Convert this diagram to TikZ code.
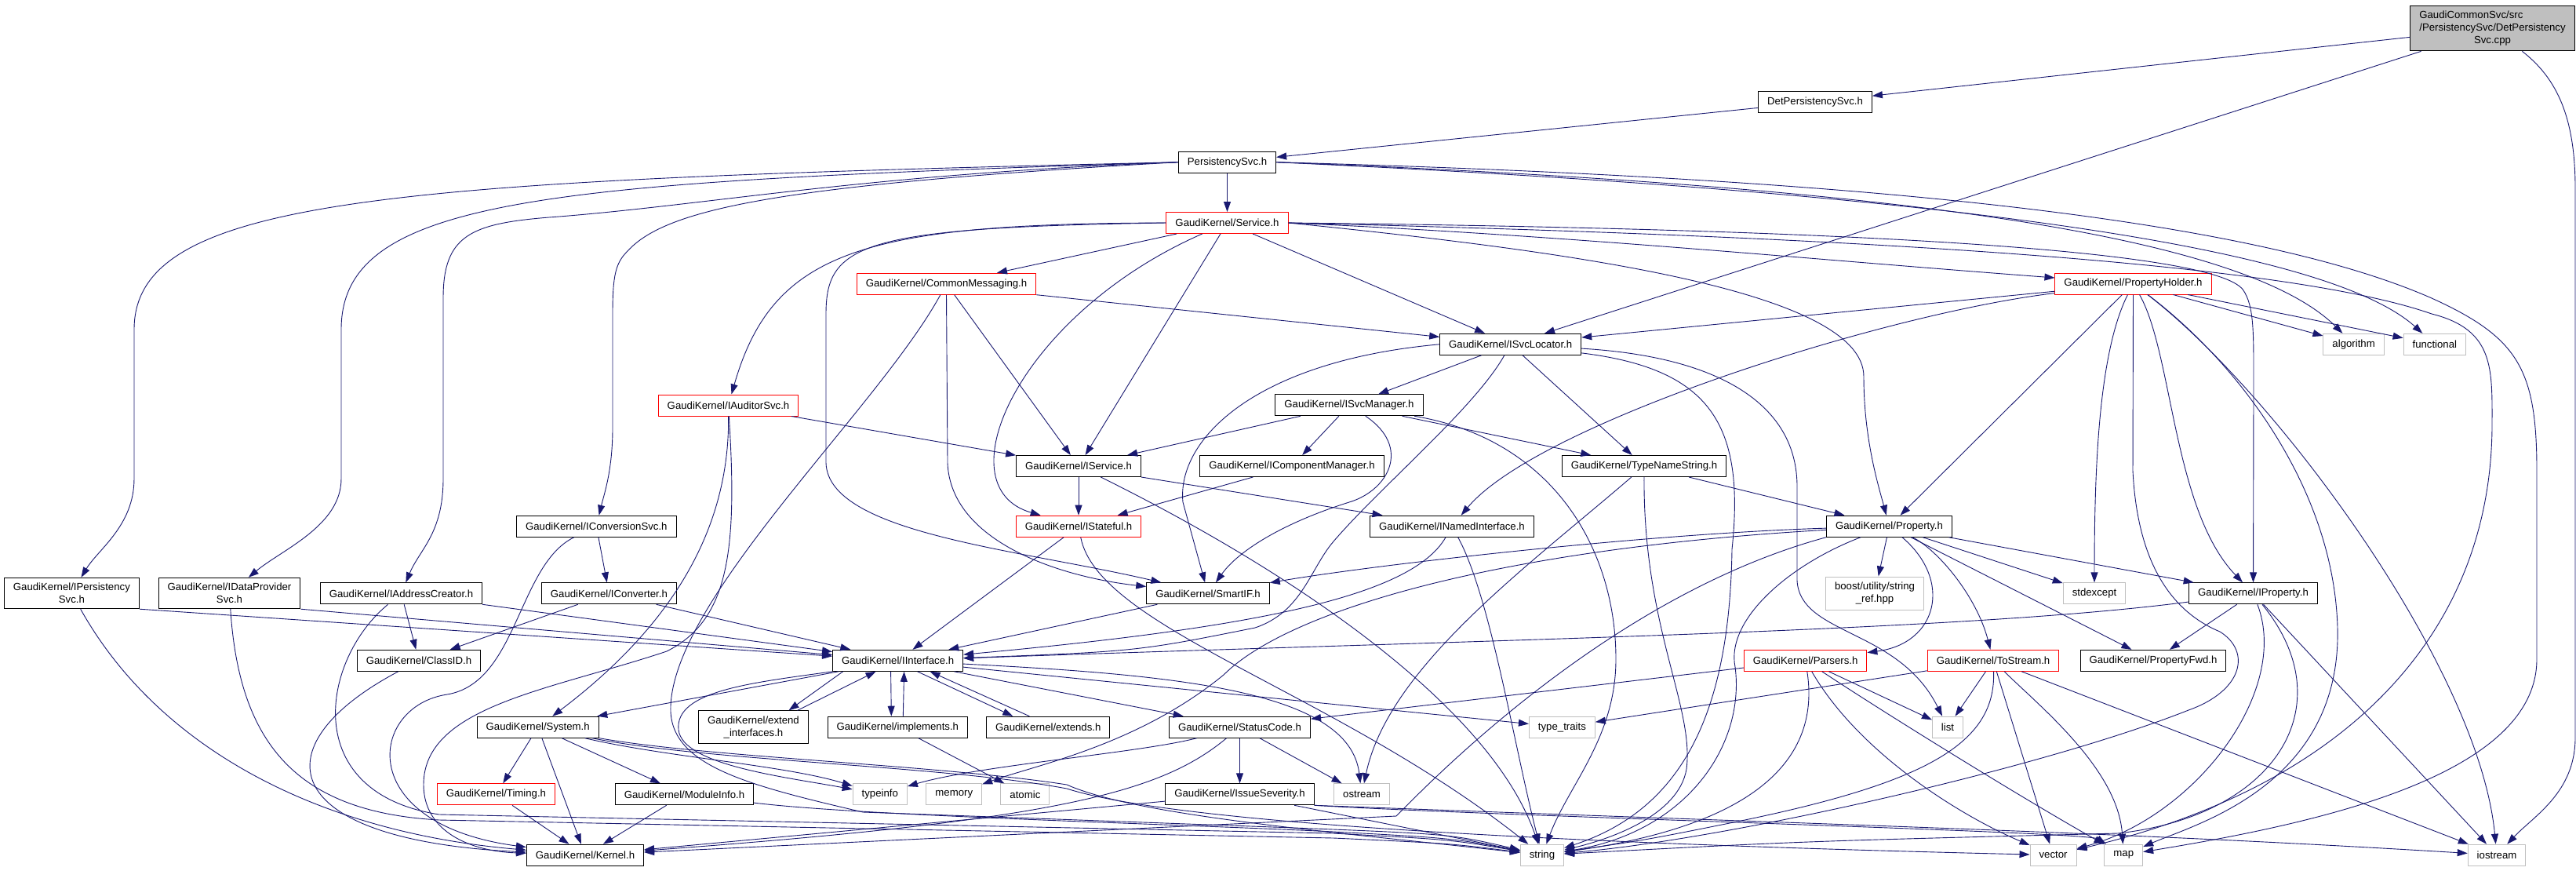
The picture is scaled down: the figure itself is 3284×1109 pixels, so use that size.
\documentclass[tikz,border=0pt]{standalone}
\usepackage{fontspec}
\setmainfont{Liberation Sans}
\usetikzlibrary{arrows.meta}

\definecolor{edgeblue}{HTML}{191970}
\definecolor{sysgray}{HTML}{BFBFBF}

\tikzstyle{hdr} = [rectangle, draw=black, line width=1pt, fill=white, text centered, align=center, inner xsep=11.5pt, inner ysep=7pt, minimum height=27pt, font=\fontsize{13.2}{15.7}\selectfont]
\tikzstyle{hdrred} = [hdr, draw=red]
\tikzstyle{hdrsys} = [hdr, draw=sysgray]
\tikzstyle{hdrroot} = [hdr, fill=sysgray]
\tikzstyle{arrow} = [draw=edgeblue, line width=0.9pt, -{Triangle[length=13pt, width=9pt]}]

\begin{document}
\begin{tikzpicture}[x=1pt, y=-1pt]
    \useasboundingbox (0,0) rectangle (3284,1109);

    % top rows
    \node[hdrroot] (cpp) at (3177.5,36) {\rlap{GaudiCommonSvc/src}\phantom{/PersistencySvc/DetPersistency}\\/PersistencySvc/DetPersistency\\Svc.cpp};
    \node[hdr] (detsvc) at (2314,130) {DetPersistencySvc.h};
    \node[hdr] (perssvc) at (1564.5,206.7) {PersistencySvc.h};
    \node[hdrred, below of=perssvc, node distance=77.3pt] (service) {GaudiKernel/Service.h};
    \node[hdrred] (commsg) at (1206.5,361.7) {GaudiKernel/CommonMessaging.h};
    \node[hdrred] (propholder) at (2719.5,361.5) {GaudiKernel/PropertyHolder.h};
    \node[hdr] (svcloc) at (1925.7,438.8) {GaudiKernel/ISvcLocator.h};
    \node[hdrsys] (algorithm) at (3000.6,438.8) {algorithm};
    \node[hdrsys] (functional) at (3103.8,438.8) {functional};
    \node[hdrred] (auditor) at (928.5,516.5) {GaudiKernel/IAuditorSvc.h};
    \node[hdr] (svcmgr) at (1720,516.3) {GaudiKernel/ISvcManager.h};
    \node[hdr] (iservice) at (1375,594) {GaudiKernel/IService.h};
    \node[hdr] (compmgr) at (1647,594) {GaudiKernel/IComponentManager.h};
    \node[hdr] (typename) at (2096,594) {GaudiKernel/TypeNameString.h};
    \node[hdr] (iconvsvc) at (760.3,670.7) {GaudiKernel/IConversionSvc.h};
    \node[hdrred, below of=iservice, node distance=76.7pt] (istateful) {GaudiKernel/IStateful.h};
    \node[hdr] (inamed) at (1851,670.7) {GaudiKernel/INamedInterface.h};
    \node[hdr] (property) at (2408.5,670.7) {GaudiKernel/Property.h};

    % middle rows
    \node[hdr] (ipers) at (91.4,756) {GaudiKernel/IPersistency\\Svc.h};
    \node[hdr] (idataprov) at (292.5,756) {GaudiKernel/IDataProvider\\Svc.h};
    \node[hdr] (iaddr) at (511.5,756.3) {GaudiKernel/IAddressCreator.h};
    \node[hdr] (iconverter) at (776.4,756.3) {GaudiKernel/IConverter.h};
    \node[hdr] (smartif) at (1540,756.3) {GaudiKernel/SmartIF.h};
    \node[hdrsys] (boostref) at (2390,756) {boost/utility/string\\\_ref.hpp};
    \node[hdrsys] (stdexcept) at (2670,756.3) {stdexcept};
    \node[hdr] (iproperty) at (2872.5,756.3) {GaudiKernel/IProperty.h};
    \node[hdr] (classid) at (534,841.8) {GaudiKernel/ClassID.h};
    \node[hdr] (iinterface) at (1144.6,841.8) {GaudiKernel/IInterface.h};
    \node[hdrred] (parsers) at (2301.6,841.8) {GaudiKernel/Parsers.h};
    \node[hdrred] (tostream) at (2541,841.8) {GaudiKernel/ToStream.h};
    \node[hdr] (propfwd) at (2745,841.8) {GaudiKernel/PropertyFwd.h};
    \node[hdr] (system) at (685.7,926.7) {GaudiKernel/System.h};
    \node[hdr] (extendif) at (960.5,926.8) {GaudiKernel/extend\\\_interfaces.h};
    \node[hdr] (implements) at (1144.3,926.7) {GaudiKernel/implements.h};
    \node[hdr] (extends) at (1336.3,926.7) {GaudiKernel/extends.h};
    \node[hdr] (statuscode) at (1580.5,926.7) {GaudiKernel/StatusCode.h};
    \node[hdrsys] (typetraits) at (1991.4,926.7) {type\_traits};
    \node[hdrsys] (list) at (2483,926.7) {list};

    % bottom rows
    \node[hdrred] (timing) at (632.5,1012.3) {GaudiKernel/Timing.h};
    \node[hdr] (moduleinfo) at (872.5,1012.3) {GaudiKernel/ModuleInfo.h};
    \node[hdrsys] (typeinfo) at (1121.8,1012.3) {typeinfo};
    \node[hdrsys] (memory) at (1216.3,1012.3) {memory};
    \node[hdrsys] (atomic) at (1306.9,1012.3) {atomic};
    \node[hdr, below of=statuscode, node distance=85.6pt] (issuesev) {GaudiKernel/IssueSeverity.h};
    \node[hdrsys] (ostream) at (1736,1012.3) {ostream};
    \node[hdr] (kernel) at (746,1089.7) {GaudiKernel/Kernel.h};
    \node[hdrsys] (string) at (1966,1089.7) {string};
    \node[hdrsys] (vector) at (2617.5,1089.7) {vector};
    \node[hdrsys] (map) at (2707.3,1089.7) {map};
    \node[hdrsys] (iostream) at (3183,1089.7) {iostream};

    % lines from the source file
    \draw [arrow] (cpp) -- (detsvc);
    \draw [arrow] (cpp) -- (svcloc);
    \draw [arrow] (cpp) .. controls (3260,100) and (3283,150) .. (3283,240) -- (3283,940) .. controls (3283,1010) and (3230,1040) .. (iostream);
    \draw [arrow] (detsvc) -- (perssvc);

    % PersistencySvc.h
    \draw [arrow] (perssvc) -- (service);
    \draw [arrow] (perssvc.west) .. controls (500,230) and (171,250) .. (171,420) -- (171,610) .. controls (171,670) and (125,700) .. (ipers);
    \draw [arrow] (perssvc.west) .. controls (700,232) and (435,250) .. (435,420) -- (435,610) .. controls (435,670) and (360,700) .. (idataprov);
    \draw [arrow] (perssvc.west) .. controls (1100,222) and (900,262) .. (700,277) .. controls (600,285) and (565,300) .. (565,380) -- (565,610) .. controls (565,680) and (535,700) .. (iaddr);
    \draw [arrow] (perssvc.west) .. controls (1000,235) and (850,265) .. (800,320) .. controls (785,335) and (781,350) .. (781,400) -- (781,545) .. controls (781,600) and (770,630) .. (iconvsvc);
    \draw [arrow] (perssvc.east) .. controls (2300,225) and (2850,270) .. (3100,380) .. controls (3210,430) and (3234,470) .. (3234,600) -- (3234,840) .. controls (3234,990) and (2950,1050) .. (map);
    \draw [arrow] (perssvc.east) .. controls (2350,235) and (2850,290) .. (algorithm);
    \draw [arrow] (perssvc.east) .. controls (2350,240) and (2950,300) .. (functional);

    % Service.h
    \draw [arrow] (service) -- (commsg);
    \draw [arrow] (service.west) .. controls (1100,285) and (985,320) .. (auditor);
    \draw [arrow] (service.west) .. controls (1100,290) and (1053,310) .. (1053,400) -- (1053,590) .. controls (1056,680) and (1300,700) .. (smartif);
    \draw [arrow] (service) .. controls (1300,400) and (1200,620) .. (istateful);
    \draw [arrow] (service) -- (iservice);
    \draw [arrow] (service) -- (svcloc);
    \draw [arrow] (service.east) .. controls (2000,320) and (2376,370) .. (2376,480) .. controls (2376,560) and (2395,620) .. (property);
    \draw [arrow] (service.east) .. controls (2000,300) and (2300,330) .. (propholder);
    \draw [arrow] (service.east) .. controls (2200,290) and (2820,310) .. (2860,370) .. controls (2873,390) and (2873,420) .. (2873,480) -- (iproperty);
    \draw [arrow] (service.east) .. controls (2300,300) and (2900,330) .. (3100,400) .. controls (3180,420) and (3177,470) .. (3177,540) .. controls (3177,800) and (3000,1000) .. (vector);

    % CommonMessaging.h
    \draw [arrow] (commsg.south east) -- (svcloc);
    \draw [arrow] (commsg) -- (iservice);
    \draw [arrow] (commsg.south) -- (1208,590) .. controls (1212,690) and (1350,735) .. (smartif);
    \draw [arrow] (commsg) .. controls (1120,520) and (860,760) .. (855,900) .. controls (852,975) and (950,1000) .. (1100,1035) -- (1650,1055) .. controls (1850,1063) .. (string);

    % ISvcLocator.h
    \draw [arrow] (svcloc) -- (svcmgr);
    \draw [arrow] (svcloc) -- (typename);
    \draw [arrow] (svcloc) .. controls (1880,520) and (1760,620) .. (1700,690) .. controls (1670,725) and (1660,780) .. (1600,800) .. controls (1450,830) .. (iinterface);
    \draw [arrow] (svcloc.west) .. controls (1600,460) and (1500,560) .. (1508,640) -- (smartif);
    \draw [arrow] (svcloc) .. controls (2180,470) and (2225,540) .. (2208,700) .. controls (2205,900) and (2150,1030) .. (string);
    \draw [arrow] (svcloc) .. controls (2200,455) and (2291,520) .. (2291,620) -- (2291,740) .. controls (2295,810) and (2420,800) .. (list);

    % ISvcManager.h, IService.h
    \draw [arrow] (svcmgr) -- (iservice);
    \draw [arrow] (svcmgr) -- (compmgr);
    \draw [arrow] (svcmgr) .. controls (1800,570) and (1770,625) .. (1720,640) .. controls (1640,665) and (1580,700) .. (smartif);
    \draw [arrow] (svcmgr) .. controls (1980,560) and (2060,700) .. (2060,840) .. controls (2060,940) and (2000,1000) .. (string);
    \draw [arrow] (svcmgr) -- (typename);
    \draw [arrow] (iservice) -- (istateful);
    \draw [arrow] (iservice.south east) -- (inamed);
    \draw [arrow] (iservice) .. controls (1650,730) and (1900,900) .. (string);
    \draw [arrow] (compmgr) -- (istateful);
    \draw [arrow] (auditor) -- (iservice);
    \draw [arrow] (auditor) .. controls (930,650) and (880,780) .. (system);
    \draw [arrow] (auditor) .. controls (940,700) and (930,790) .. (850,830) .. controls (700,880) and (540,900) .. (540,1000) .. controls (540,1060) and (600,1085) .. (kernel);

    % TypeNameString.h, INamedInterface.h, IStateful.h
    \draw [arrow] (typename) -- (property);
    \draw [arrow] (typename) .. controls (2095,800) and (2160,900) .. (2150,980) .. controls (2140,1040) and (2050,1070) .. (string);
    \draw [arrow] (typename) .. controls (1950,720) and (1770,850) .. (ostream);
    \draw [arrow] (inamed) .. controls (1800,760) and (1600,800) .. (iinterface);
    \draw [arrow] (inamed) .. controls (1900,760) and (1930,950) .. (string);
    \draw [arrow] (istateful) -- (iinterface);
    \draw [arrow] (istateful) .. controls (1400,800) and (1700,880) .. (string);

    % interfaces of the left
    \draw [arrow] (iconvsvc) -- (iconverter);
    \draw [arrow] (iconvsvc) .. controls (660,720) and (660,870) .. (570,885) .. controls (470,900) and (450,1050) .. (kernel);
    \draw [arrow] (ipers.south east) -- (iinterface);
    \draw [arrow] (ipers) .. controls (200,950) and (400,1060) .. (kernel);
    \draw [arrow] (idataprov.south east) -- (iinterface);
    \draw [arrow] (idataprov) .. controls (305,950) and (380,1035) .. (560,1045) -- (1700,1068) .. controls (1850,1075) .. (string);
    \draw [arrow] (iaddr) -- (classid);
    \draw [arrow] (iaddr.south east) -- (iinterface);
    \draw [arrow] (iaddr) .. controls (410,840) and (380,1010) .. (560,1038) -- (1700,1062) .. controls (1850,1070) .. (string);
    \draw [arrow] (iconverter) -- (classid);
    \draw [arrow] (iconverter) -- (iinterface);
    \draw [arrow] (classid) .. controls (330,950) and (350,1070) .. (kernel);
    \draw [arrow] (smartif) -- (iinterface);

    % IInterface.h
    \draw [arrow] ([xshift=-70pt]iinterface.south) -- ([xshift=45pt]extendif.north);
    \draw [arrow] ([xshift=56pt]extendif.north) -- ([xshift=-28pt]iinterface.south);
    \draw [arrow] ([xshift=-9pt]iinterface.south) -- ([xshift=-8pt]implements.north);
    \draw [arrow] ([xshift=7pt]implements.north) -- ([xshift=8pt]iinterface.south);
    \draw [arrow] ([xshift=25pt]iinterface.south) -- ([xshift=-45pt]extends.north);
    \draw [arrow] ([xshift=-24pt]extends.north) -- ([xshift=41pt]iinterface.south);
    \draw [arrow] (iinterface) -- (system);
    \draw [arrow] (iinterface) -- (statuscode);
    \draw [arrow] (iinterface) -- (typetraits);
    \draw [arrow] (iinterface) .. controls (1500,860) and (1720,880) .. (ostream);
    \draw [arrow] (iinterface.south west) .. controls (960,870) and (860,880) .. (865,930) .. controls (870,975) and (1000,990) .. (typeinfo);
    \draw [arrow] (implements) -- (atomic);

    % System.h
    \draw [arrow] (system) -- (timing);
    \draw [arrow] (system) -- (kernel);
    \draw [arrow] (system) -- (moduleinfo);
    \draw [arrow] (system) .. controls (850,965) and (1000,975) .. (typeinfo);
    \draw [arrow] (system) .. controls (900,965) and (1200,975) .. (1360,1000) .. controls (1450,1040) and (1700,1060) .. (string);
    \draw [arrow] (system) .. controls (900,970) and (1200,975) .. (1360,1005) .. controls (1500,1050) and (2000,1075) .. (vector);
    \draw [arrow] (timing) -- (kernel);
    \draw [arrow] (moduleinfo) -- (kernel);
    \draw [arrow] (moduleinfo) .. controls (1100,1040) and (1500,1050) .. (1700,1060) .. controls (1850,1068) .. (string);

    % StatusCode.h, IssueSeverity.h
    \draw [arrow] (statuscode) -- (issuesev);
    \draw [arrow] (statuscode) -- (ostream);
    \draw [arrow] (statuscode) .. controls (1450,960) and (1250,975) .. (typeinfo);
    \draw [arrow] (statuscode) .. controls (1480,1010) and (1350,1045) .. (kernel);
    \draw [arrow] (issuesev) -- (kernel);
    \draw [arrow] (issuesev) -- (string);
    \draw [arrow] (issuesev.south east) .. controls (1900,1040) and (2660,1060) .. (map);
    \draw [arrow] (issuesev.south east) .. controls (2300,1050) and (2700,1060) .. (iostream);

    % Property.h
    \draw [arrow] (property) -- (boostref);
    \draw [arrow] (property) .. controls (2490,740) and (2470,820) .. (parsers);
    \draw [arrow] (property) .. controls (2470,700) and (2520,760) .. (tostream);
    \draw [arrow] (property) -- (propfwd);
    \draw [arrow] (property) -- (stdexcept);
    \draw [arrow] (property) -- (iproperty);
    \draw [arrow] (property) .. controls (2280,720) and (2200,790) .. (2212,850) .. controls (2225,950) and (2150,1060) .. (string);
    \draw [arrow] (property) .. controls (2100,680) and (1750,720) .. (smartif);
    \draw [arrow] (property) .. controls (1900,700) and (1640,780) .. (1560,860) .. controls (1450,950) and (1320,975) .. (memory);
    \draw [arrow] (property.south west) .. controls (2050,760) and (1820,1000) .. (1780,1040) -- (kernel);

    % PropertyHolder.h
    \draw [arrow] (propholder) -- (svcloc);
    \draw [arrow] (propholder) .. controls (2400,400) and (1960,540) .. (inamed);
    \draw [arrow] (propholder) -- (property);
    \draw [arrow] (propholder) .. controls (2675,450) and (2670,600) .. (stdexcept);
    \draw [arrow] (propholder) -- (2719,600) .. controls (2725,720) and (2770,780) .. (2830,805) .. controls (2870,830) and (2860,880) .. (2790,905) .. controls (2600,980) and (2200,1070) .. (string);
    \draw [arrow] (propholder) .. controls (2770,450) and (2770,650) .. (iproperty);
    \draw [arrow] (propholder) .. controls (2850,460) and (2975,620) .. (2980,800) .. controls (2985,1000) and (2800,1050) .. (map);
    \draw [arrow] (propholder) .. controls (2900,500) and (3160,850) .. (iostream);
    \draw [arrow] (propholder) -- (algorithm);
    \draw [arrow] (propholder) -- (functional);

    % IProperty.h
    \draw [arrow] (iproperty) .. controls (2500,805) and (1900,815) .. (iinterface);
    \draw [arrow] (iproperty) -- (propfwd);
    \draw [arrow] (iproperty) .. controls (2920,880) and (2800,1040) .. (vector);
    \draw [arrow] (iproperty) .. controls (2990,900) and (2900,1040) .. (2700,1062) .. controls (2300,1072) .. (string);
    \draw [arrow] (iproperty) -- (iostream);

    % Parsers.h, ToStream.h
    \draw [arrow] (parsers) -- (statuscode);
    \draw [arrow] (parsers) .. controls (2320,960) and (2250,1050) .. (string);
    \draw [arrow] (parsers) -- (list);
    \draw [arrow] (parsers) .. controls (2370,960) and (2500,1040) .. (vector);
    \draw [arrow] (parsers) .. controls (2420,920) and (2600,1030) .. (map);
    \draw [arrow] (tostream) -- (typetraits);
    \draw [arrow] (tostream) -- (list);
    \draw [arrow] (tostream) .. controls (2545,950) and (2450,1000) .. (2200,1050) .. controls (2100,1070) .. (string);
    \draw [arrow] (tostream) -- (vector);
    \draw [arrow] (tostream) .. controls (2600,900) and (2700,980) .. (map);
    \draw [arrow] (tostream) -- (iostream);
\end{tikzpicture}
\end{document}
